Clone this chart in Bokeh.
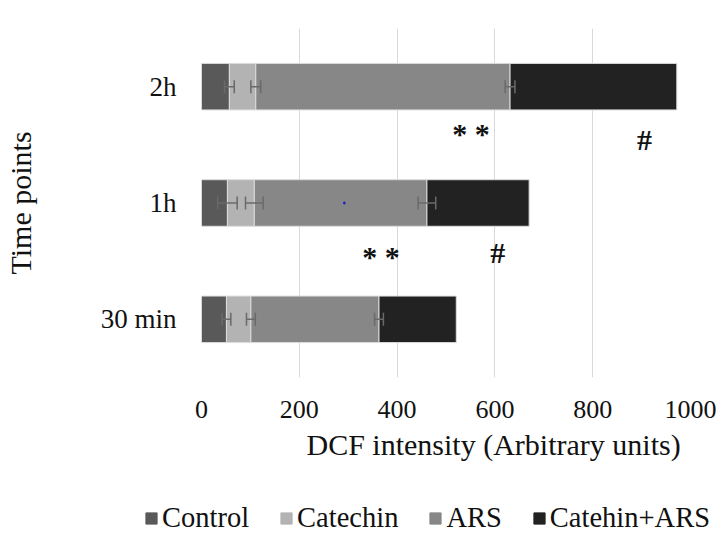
from bokeh.plotting import figure
from bokeh.layouts import column
from bokeh.models import ColumnDataSource, FactorRange, Range1d, Whisker, TeeHead, FixedTicker, Title
from bokeh.core.properties import value
from bokeh.embed import file_html
from bokeh.resources import INLINE

# ---- data ----
time_points = ["30 min", "1h", "2h"]
control = [51, 53, 57]
catechin = [50, 55, 54]
ars = [262, 353, 520]
catechin_ars = [158, 209, 341]
err_control = [9, 20, 10]
err_catechin = [9, 18, 10]
err_ars = [9, 18, 10]
series_names = ["Control", "Catechin", "ARS", "Catehin+ARS"]
x_ticks = [0, 200, 400, 600, 800, 1000]

sig_points = ["2h", "2h", "1h", "1h"]
sig_x = [551, 906, 367, 606]
sig_text = ["* *", "#", "* *", "#"]

stray_x = [292]
stray_points = ["1h"]

FONT = "Liberation Serif"
colors = ["#595959", "#b3b3b3", "#878787", "#222222"]

src = ColumnDataSource(dict(t=time_points, control=control, catechin=catechin,
                            ars=ars, cars=catechin_ars))

p = figure(width=720, height=470, y_range=FactorRange(*time_points),
           x_range=Range1d(0, 1000), output_backend="svg", toolbar_location=None,
           min_border_left=200, min_border_right=30, min_border_top=28,
           min_border_bottom=93)

p.hbar_stack(["control", "catechin", "ars", "cars"], y="t", height=0.4,
             color=colors, line_color="#dcdcdc", line_width=1, source=src)

# error bars at end of each of the first three segments
acc = [0, 0, 0]
for vals, errs in [(control, err_control), (catechin, err_catechin), (ars, err_ars)]:
    acc = [a + v for a, v in zip(acc, vals)]
    wsrc = ColumnDataSource(dict(t=time_points,
                                 lo=[a - e for a, e in zip(acc, errs)],
                                 hi=[a + e for a, e in zip(acc, errs)]))
    w = Whisker(source=wsrc, base="t", lower="lo", upper="hi", dimension="width",
                line_color="#6a6a6a", line_width=1.5, level="overlay",
                upper_head=TeeHead(size=13, line_color="#6a6a6a", line_width=1.5),
                lower_head=TeeHead(size=13, line_color="#6a6a6a", line_width=1.5))
    p.add_layout(w)

# significance marks
y_offs = [47, 53, 53, 49]
p.text(x=sig_x, y=sig_points, text=sig_text, y_offset=y_offs,
       text_font=value(FONT), text_font_style="bold", text_font_size="30px",
       text_align="center", text_baseline="alphabetic", text_color="#111111")

p.scatter(x=stray_x, y=stray_points, size=2, color="#2020d0")

# axes
p.xaxis.ticker = FixedTicker(ticks=x_ticks)
for ax in (p.xaxis[0], p.yaxis[0]):
    ax.axis_line_color = None
    ax.major_tick_line_color = None
    ax.minor_tick_line_color = None
    ax.major_label_text_font = FONT
    ax.major_label_text_color = "#111111"
    ax.axis_label_text_font = FONT
    ax.axis_label_text_font_size = "30px"
    ax.axis_label_text_font_style = "normal"
    ax.axis_label_text_color = "#111111"
p.xaxis.major_label_text_font_size = "26px"
p.yaxis.major_label_text_font_size = "27px"

p.yaxis.axis_label = "Time points"
p.xaxis.major_label_standoff = 17
p.yaxis.major_label_standoff = 19
p.yaxis.axis_label_standoff = 61

# x-axis title (offset to the right like the original)
xtitle = Title(text="DCF intensity (Arbitrary units)", align="left", offset=105,
               text_font=FONT, text_font_size="30px", text_font_style="normal",
               text_color="#111111", standoff=11)
p.add_layout(xtitle, "below")

p.xgrid.grid_line_color = "#d9d9d9"
p.xgrid.grid_line_width = 1
p.ygrid.grid_line_color = None
p.outline_line_color = None

# ---- legend strip ----
lg = figure(width=720, height=64, output_backend="svg", toolbar_location=None,
            x_range=Range1d(0, 1), y_range=Range1d(0, 1), min_border=0,
            x_axis_type=None, y_axis_type=None)
lg.frame_align = False
lg.grid.visible = False
lg.outline_line_color = None
for name, c in zip(series_names, colors):
    lg.hbar(y=[-5], right=[-5], left=[-6], height=0.5, color=c, legend_label=name)
leg = lg.legend[0]
leg.orientation = "horizontal"
leg.location = (144, 0)
leg.border_line_color = None
leg.background_fill_alpha = 0
leg.label_text_font = FONT
leg.label_text_font_size = "28.5px"
leg.label_text_color = "#111111"
leg.glyph_width = 14
leg.glyph_height = 14
leg.label_standoff = 4
leg.spacing = 30
leg.padding = 0
leg.margin = 0

layout = column(p, lg, spacing=0)
open("out.html", "w").write(file_html(layout, INLINE))
